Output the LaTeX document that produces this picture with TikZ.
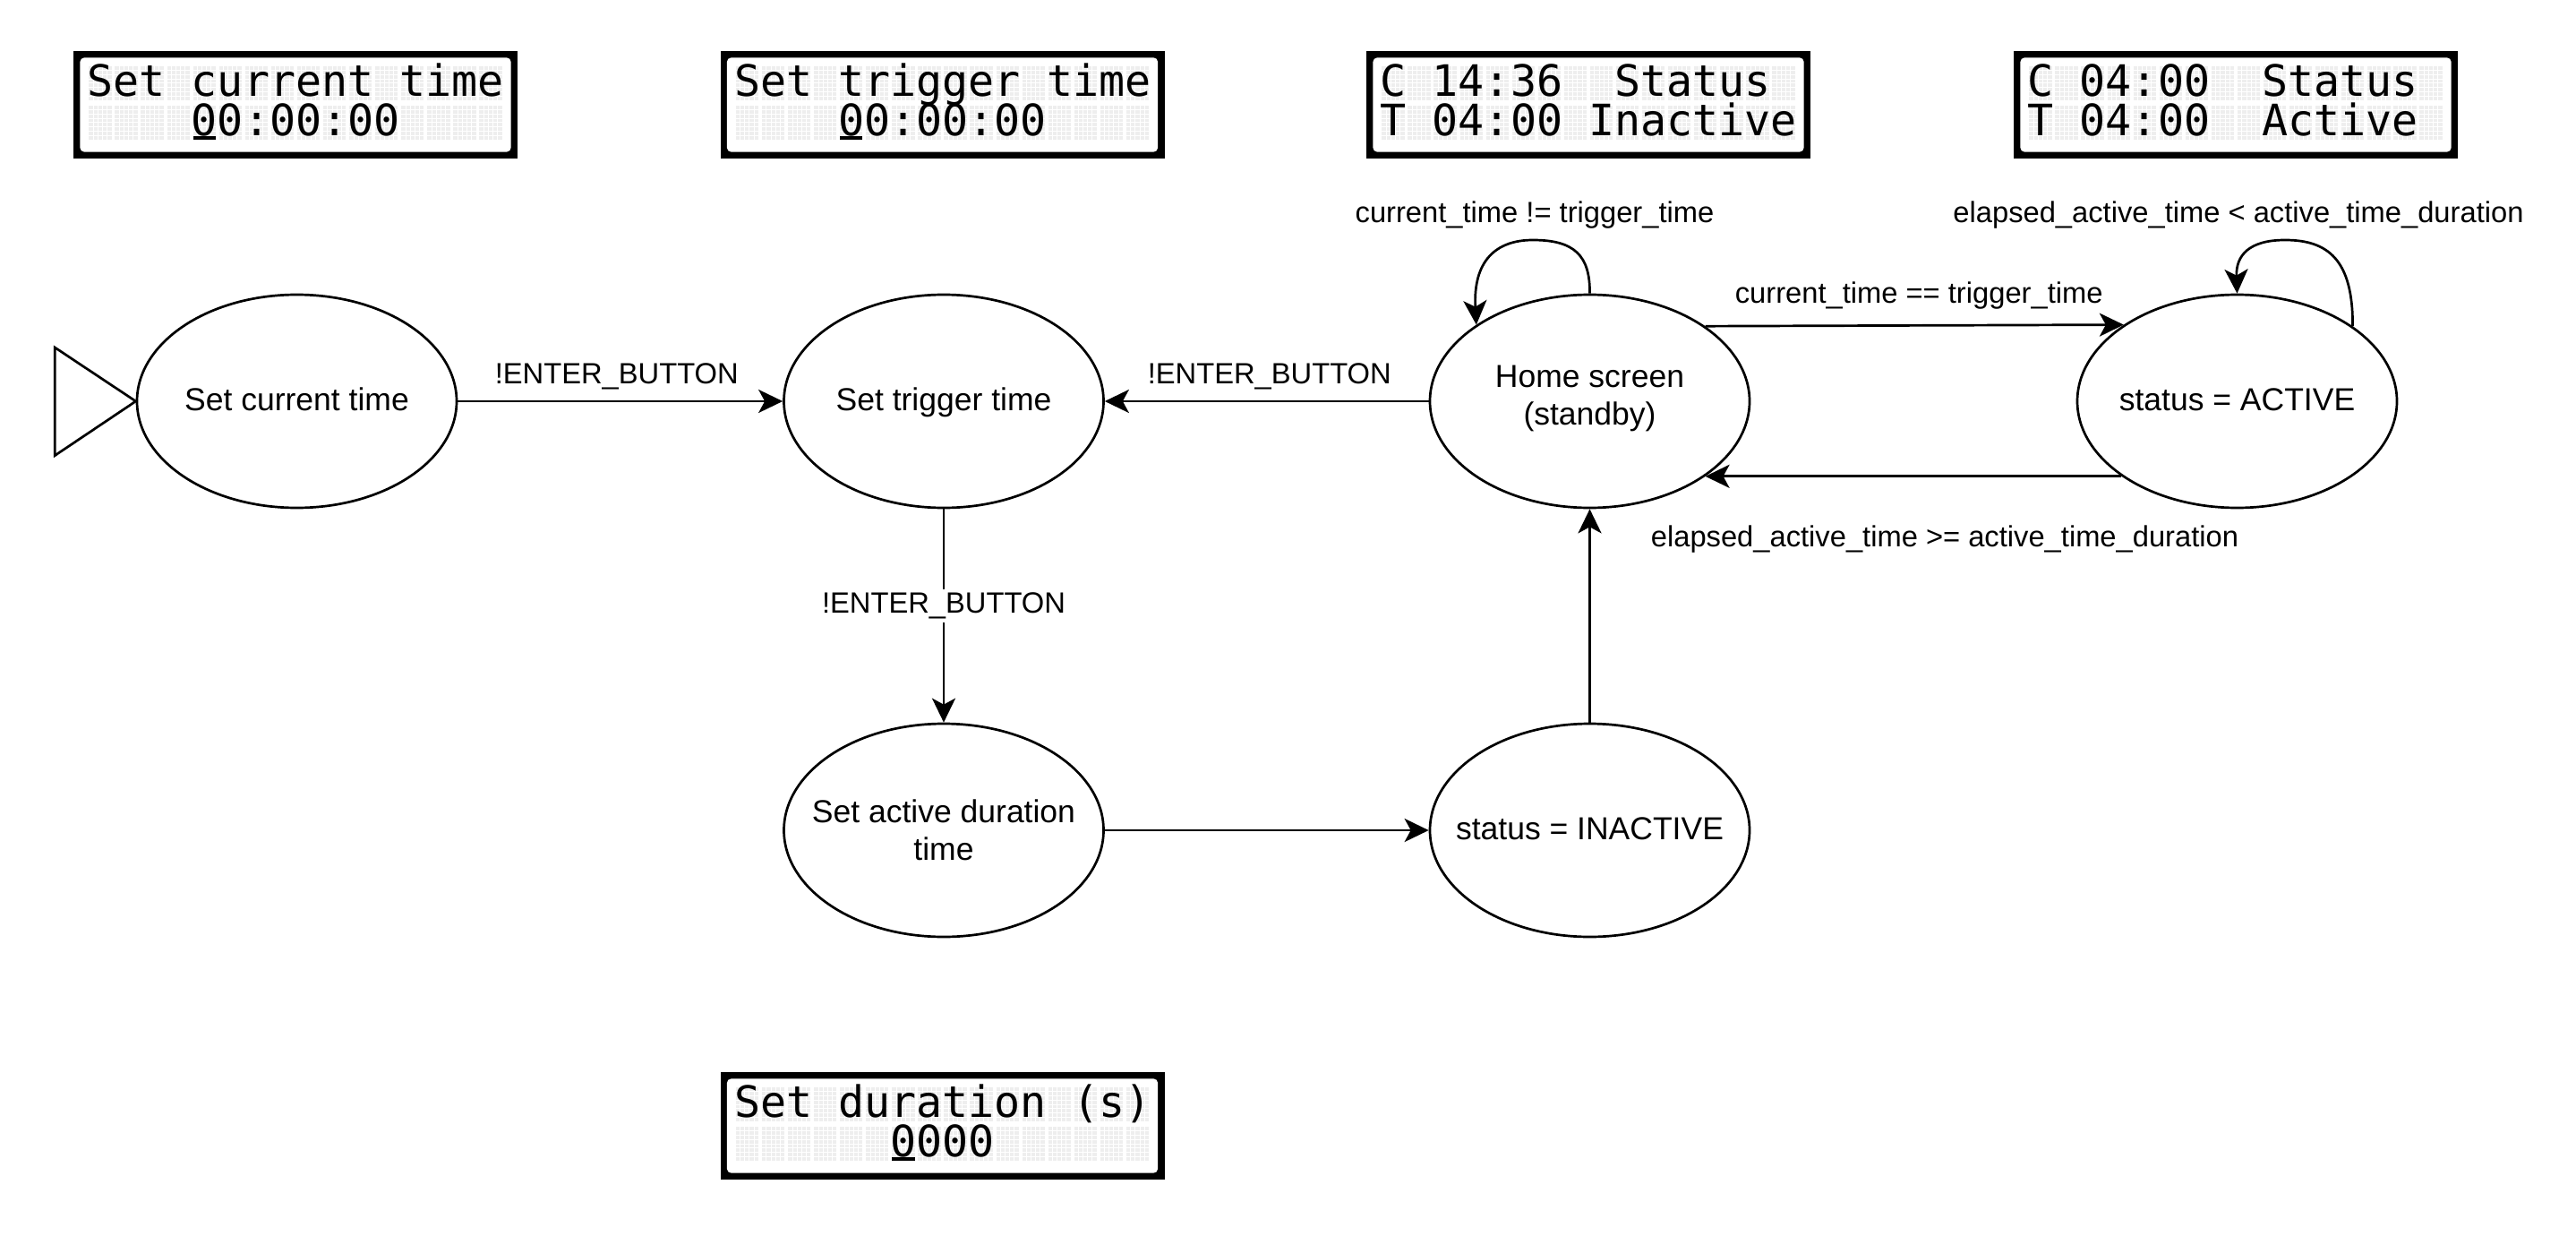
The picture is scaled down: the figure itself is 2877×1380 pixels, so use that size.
\documentclass[tikz,border=0pt]{standalone}
\usepackage{fontspec}
\setmainfont{Liberation Sans}
\newfontfamily\lcdfont{DejaVu Sans Mono}
\usetikzlibrary{arrows.meta,shapes.geometric}
\definecolor{lcdcell}{HTML}{EEEEEE}

% #1 name, #2 centre x, #3 top y, #4 row 1, #5 row 2, #6 first cell of row 2, #7 cursor cell (-1 = none)
\newcommand{\lcdpanel}[7]{%
  \fill[black] ({#2-248},{#3}) rectangle ({#2+248},{#3+120});
  \fill[white,rounded corners=5pt] ({#2-240.7},{#3+7.6}) rectangle ({#2+240.7},{#3+113});
  \foreach \rowy in {17.3,61.3}{
    \foreach \ci in {0,...,15}{
      \fill[lcdcell] ({#2-230.7+\ci*29.07},{#3+\rowy}) rectangle ++(25.3,38);
      \foreach \dk in {1,...,4}{
        \fill[white] ({#2-230.7+\ci*29.07+\dk*5.06-0.5},{#3+\rowy}) rectangle ++(1,38);
      }
    }
    \foreach \dk in {1,...,7}{
      \fill[white] ({#2-231},{#3+\rowy+\dk*4.75-0.5}) rectangle ++(467,1);
    }
  }
  \node[lcdtext] (#1r1) at ({#2-232.6},{#3+17.3+33.5}) {#4};
  \node[lcdtext] (#1r2) at ({#2-232.6+#6*29.07},{#3+61.3+33.5}) {#5};
  \ifnum#7>-1\relax
    \fill[black] ({#2-230.7+#7*29.07},{#3+61.3+34}) rectangle ++(25.3,4);
  \fi
}

\begin{document}
\begin{tikzpicture}[x=1pt,y=-1pt,
  state/.style={ellipse, draw, line width=2.7pt, minimum width=357pt, minimum height=238pt,
    inner sep=0pt},
  stext/.style={align=center, inner sep=0pt, font=\fontsize{35.5}{42.6}\selectfont},
  oneline/.style={text height=27pt, text depth=7pt},
  conn/.style={line width=2.7pt, -{Stealth[length=27pt,width=26pt,inset=7pt]}},
  elabel/.style={font=\fontsize{32.7}{39}\selectfont, anchor=base, inner sep=0pt},
  lcdtext/.style={font=\lcdfont\fontsize{48.3}{50}\selectfont, anchor=base west, inner sep=0pt},
]
\fill[white] (0,0) rectangle (2877,1380);
\useasboundingbox (0,0) rectangle (2877,1380);

% LCD panels
\lcdpanel{A}{330}{56.7}{Set current time}{00:00:00}{4}{4}
\lcdpanel{B}{1052.5}{56.7}{Set trigger time}{00:00:00}{4}{4}
\lcdpanel{C}{1774}{56.7}{C 14:36\ \ Status}{T 04:00 Inactive}{0}{-1}
\lcdpanel{D}{2497}{56.7}{C 04:00\ \ Status}{T 04:00\ \ Active}{0}{-1}
\lcdpanel{E}{1052.5}{1196.7}{Set duration (s)}{0000}{6}{6}

% states (outline) and their texts
\node[state] (E1) at (331.5,448) {};
\node[state] (E2) at (1054,448) {};
\node[state] (E3) at (1775.5,448) {};
\node[state] (E4) at (2498.5,448) {};
\node[state] (E5) at (1054,927) {};
\node[state] (E6) at (1775.5,927) {};
\node[stext,oneline] (E1t) at (E1.center) {Set current time};
\node[stext,oneline] (E2t) at (E2.center) {Set trigger time};
\node[stext, yshift=3pt] (E3t) at (E3.center) {Home screen\\(standby)};
\node[stext,oneline] (E4t) at (E4.center) {status = ACTIVE};
\node[stext] (E5t) at (E5.center) {Set active duration\\time};
\node[stext,oneline] (E6t) at (E6.center) {status = INACTIVE};

% initial marker
\draw[line width=2.7pt] (61.3,388) -- (61.3,508.6) -- (E1.west) -- cycle;

% transitions
\draw[conn] (E1.east) -- node[elabel, yshift=20pt, xshift=-4pt] {!ENTER\_BUTTON} (E2.west);
\draw[conn] (E3.west) -- node[elabel, yshift=20pt, xshift=3pt] {!ENTER\_BUTTON} (E2.east);
\draw[conn] (E2.south) -- node[elabel, pos=0.488, fill=white, inner sep=4pt] {!ENTER\_BUTTON} (E5.north);
\draw[conn] (E5.east) -- (E6.west);
\draw[conn] (E6.north) -- (E3.south);
\draw[conn] (E3.33.5) -- node[elabel, yshift=25pt, xshift=5pt] {current\_time == trigger\_time} (E4.146.5);
\draw[conn] (E4.213.6) -- node[elabel, yshift=-78.7pt, xshift=35pt] {elapsed\_active\_time >= active\_time\_duration} (E3.-33.6);

% self loops
\draw[conn] (E3.north) .. controls (1776,285) and (1758,268) .. (1712,268)
  node[elabel, yshift=19.7pt, xshift=2pt] {current\_time != trigger\_time}
  .. controls (1670,268) and (1645,292) .. (E3.146);
\draw[conn] (E4.33.5) .. controls (2628,290) and (2600,268) .. (2552,268)
  node[elabel, yshift=19.7pt, xshift=-52pt] {elapsed\_active\_time < active\_time\_duration}
  .. controls (2512,268) and (2497,285) .. (E4.north);
\end{tikzpicture}
\end{document}
